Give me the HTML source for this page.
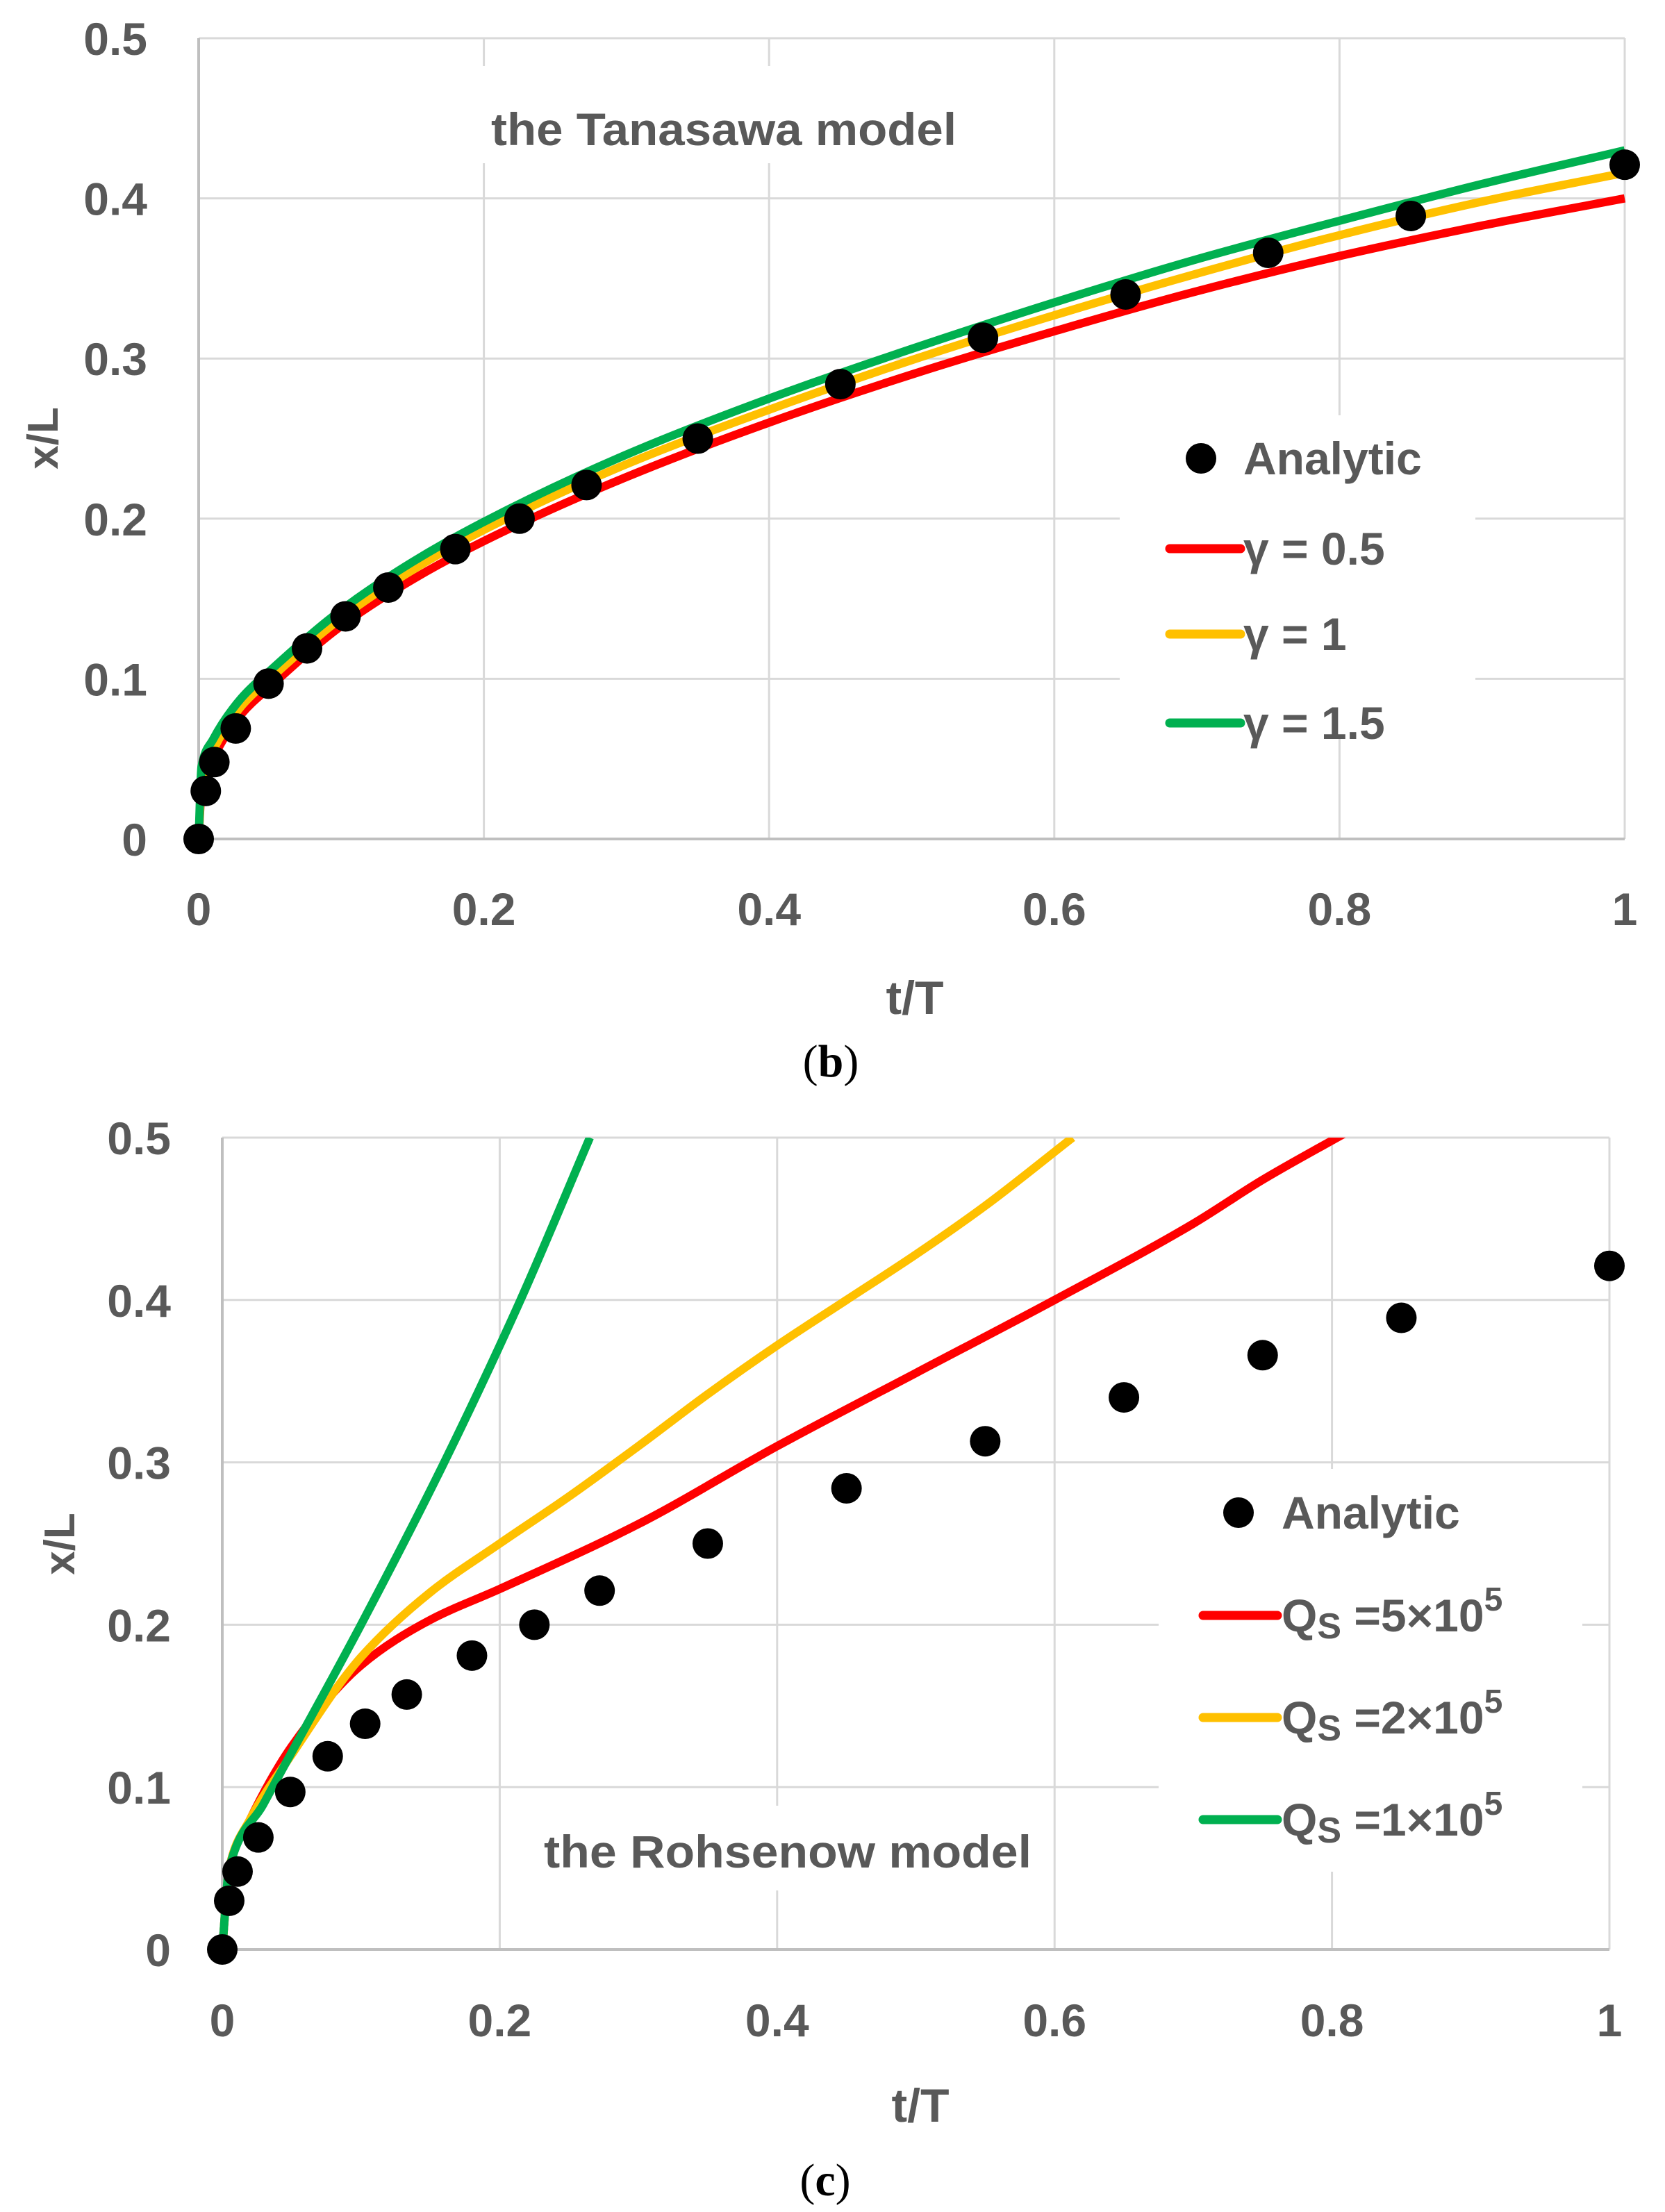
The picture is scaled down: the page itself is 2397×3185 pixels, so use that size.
<!DOCTYPE html>
<html><head><meta charset="utf-8">
<style>
html,body{margin:0;padding:0;background:#fff;}
svg{display:block;}
text{font-family:"Liberation Sans",sans-serif;font-weight:bold;fill:#595959;}
</style></head>
<body>
<svg id="fig" width="2397" height="3185" viewBox="0 0 2397 3185" xmlns="http://www.w3.org/2000/svg">
<rect width="2397" height="3185" fill="#fff"/>
</svg>
<script>
// ---- Chart (b) data ----
const xTicks = [0,0.2,0.4,0.6,0.8,1];
const xTickLabels = ["0","0.2","0.4","0.6","0.8","1"];
const yTicks = [0,0.1,0.2,0.3,0.4,0.5];
const yTickLabels = ["0","0.1","0.2","0.3","0.4","0.5"];
const analyticT = [0,0.005,0.011,0.026,0.049,0.076,0.103,0.133,0.18,0.225,0.272,0.35,0.45,0.55,0.65,0.75,0.85,1.0];
const analyticX = [0,0.030,0.048,0.069,0.097,0.119,0.139,0.157,0.181,0.200,0.221,0.250,0.284,0.313,0.340,0.366,0.389,0.421];
const bT = [0,0.002,0.01,0.03,0.05,0.1,0.15,0.2,0.3,0.4,0.5,0.6,0.7,0.8,0.9,1];
const bRed = [0,0.03,0.05,0.078,0.095,0.133,0.162,0.186,0.226,0.26,0.29,0.317,0.342,0.364,0.383,0.40];
const bYellow = [0,0.035,0.055,0.083,0.1,0.138,0.168,0.193,0.234,0.268,0.299,0.327,0.353,0.377,0.398,0.416];
const bGreen = [0,0.045,0.062,0.088,0.105,0.143,0.173,0.198,0.24,0.275,0.306,0.335,0.362,0.386,0.409,0.43];
// ---- Chart (c) data ----
const cRedT = [0,0.005,0.02,0.05,0.1,0.15,0.2,0.3,0.4,0.5,0.6,0.7,0.75,0.81];
const cRedX = [0,0.05,0.08,0.125,0.175,0.203,0.222,0.262,0.31,0.355,0.40,0.447,0.474,0.503];
const cYellowT = [0,0.005,0.02,0.05,0.1,0.15,0.2,0.25,0.3,0.35,0.4,0.45,0.5,0.55,0.613];
const cYellowX = [0,0.05,0.08,0.12,0.18,0.22,0.25,0.279,0.31,0.342,0.372,0.4,0.428,0.458,0.5];
const cGreenT = [0,0.005,0.03,0.1,0.16,0.215,0.265];
const cGreenX = [0,0.05,0.09,0.2,0.3,0.4,0.5];

const NS="http://www.w3.org/2000/svg";
const svg=document.getElementById('fig');
function mk(tag,attrs,parent){const e=document.createElementNS(NS,tag);for(const k in attrs)e.setAttribute(k,attrs[k]);(parent||svg).appendChild(e);return e;}
function smooth(pts){
  const n=pts.length;
  const dx=[],m=[],s=[];
  for(let i=0;i<n-1;i++){dx.push(pts[i+1][0]-pts[i][0]);s.push((pts[i+1][1]-pts[i][1])/dx[i]);}
  m[0]=s[0];m[n-1]=s[n-2];
  for(let i=1;i<n-1;i++){m[i]=(s[i-1]*s[i]<=0)?0:(dx[i-1]+dx[i])*3/((2*dx[i]+dx[i-1])/s[i-1]+(dx[i]+2*dx[i-1])/s[i]);}
  let d="M"+pts[0][0]+","+pts[0][1];
  for(let i=0;i<n-1;i++){
    const h=dx[i];
    d+=" C"+(pts[i][0]+h/3)+","+(pts[i][1]+m[i]*h/3)+" "+(pts[i+1][0]-h/3)+","+(pts[i+1][1]-m[i+1]*h/3)+" "+pts[i+1][0]+","+pts[i+1][1];
  }
  return d;
}

function chart(cfg){
  const g=mk('g',{});
  
  
  const X=v=>cfg.x0+v*(cfg.x1-cfg.x0);
  const Y=v=>cfg.y0-v*(cfg.y0-cfg.y1)/0.5;
  yTicks.forEach((v,i)=>{ if(v>0){const l=mk('line',{x1:cfg.x0,x2:cfg.x1,y1:Y(v),y2:Y(v),stroke:'#d9d9d9','stroke-width':3},g);
    }});
  xTicks.forEach((v,i)=>{ if(v>0){const l=mk('line',{x1:X(v),x2:X(v),y1:cfg.y1,y2:cfg.y0,stroke:'#d9d9d9','stroke-width':3},g);
    }});
  cfg.boxes.forEach(b=>{mk('rect',{x:b[0],y:b[1],width:b[2],height:b[3],fill:'#fff'},g);});
  const ya=mk('line',{x1:cfg.x0,x2:cfg.x0,y1:cfg.y1,y2:cfg.y0,stroke:'#bfbfbf','stroke-width':4},g);
  
  const xa=mk('line',{x1:cfg.x0,x2:cfg.x1,y1:cfg.y0,y2:cfg.y0,stroke:'#bfbfbf','stroke-width':4},g);
  
  yTicks.forEach((v,i)=>{const t=mk('text',{x:cfg.x0-74,y:Y(v)+24,'text-anchor':'end','font-size':66},g);t.textContent=yTickLabels[i];
    });
  xTicks.forEach((v,i)=>{const t=mk('text',{x:X(v),y:cfg.xTickY,'text-anchor':'middle','font-size':66},g);t.textContent=xTickLabels[i];
    });
  const cp=mk('clipPath',{id:cfg.name+'-clip'},g);
  mk('rect',{x:cfg.x0-20,y:cfg.y1,width:cfg.x1-cfg.x0+40,height:cfg.y0-cfg.y1+30},cp);
  cfg.series.forEach(s=>{
    const pts=s.t.map((t,i)=>[X(t),Y(s.v[i])]);
    const p=mk('path',{d:smooth(pts),fill:'none',stroke:s.color,'stroke-width':12,'stroke-linejoin':'round','clip-path':'url(#'+cfg.name+'-clip)'},g);
    
  });
  analyticT.forEach((t,i)=>{const c=mk('circle',{cx:X(t),cy:Y(analyticX[i]),r:22,fill:'#000'},g);
    });
  const tt=mk('text',{x:cfg.title[1],y:cfg.title[2],'text-anchor':'middle','font-size':66,textLength:cfg.title[3],lengthAdjust:'spacingAndGlyphs'},g);
  tt.textContent=cfg.title[0];
  const xt=mk('text',{x:cfg.xTitle[0],y:cfg.xTitle[1],'text-anchor':'middle','font-size':68},g);
  xt.textContent='t/T';
  const yt=mk('text',{x:0,y:0,'text-anchor':'middle','font-size':62,transform:'translate('+(cfg.yTitle[0]+22)+','+cfg.yTitle[1]+') rotate(-90)'},g);
  yt.textContent='x/L';
  const lg=mk('g',{},g);
  
  const L=cfg.legend;
  const m=mk('circle',{cx:L.mx,cy:L.my,r:22,fill:'#000'},lg);
  
  const at=mk('text',{x:L.tx,y:L.my+23,'font-size':66},lg);at.textContent='Analytic';
  
  L.lines.forEach((ln,i)=>{
    const sw=mk('line',{x1:L.lx0,x2:L.lx1,y1:ln.y,y2:ln.y,stroke:ln.color,'stroke-width':13,'stroke-linecap':'round'},lg);
    
    const t=mk('text',{x:L.tx,y:ln.y+23,'font-size':66},lg);
    t.innerHTML=ln.label;
    
  });
  const pl=mk('text',{x:cfg.panel[1],y:cfg.panel[2],'text-anchor':'middle','font-size':66,style:'font-family:"Liberation Serif",serif;font-weight:normal;fill:#000'},g);
  pl.innerHTML=cfg.panel[0];
}

chart({name:'chart-b',x0:286,x1:2339,y0:1208,y1:55,xTickY:1332,
  boxes:[[680,95,720,140],[1612,598,512,460]],
  series:[{name:'line-gamma-0.5',t:bT,v:bRed,color:'#ff0000'},{name:'line-gamma-1',t:bT,v:bYellow,color:'#ffc000'},{name:'line-gamma-1.5',t:bT,v:bGreen,color:'#00b050'}],
  title:['the Tanasawa model',1042,209,670],
  xTitle:[1317,1460],yTitle:[61,631],
  legend:{mx:1729,my:660,tx:1790,lx0:1684,lx1:1786,lines:[
    {y:790,color:'#ff0000',label:'γ = 0.5'},{y:913,color:'#ffc000',label:'γ = 1'},{y:1041,color:'#00b050',label:'γ = 1.5'}]},
  panel:['(<tspan font-weight="bold">b</tspan>)',1196,1550]
});
chart({name:'chart-c',x0:320,x1:2317,y0:2807,y1:1638,xTickY:2932,
  boxes:[[760,2600,750,122],[1668,2115,610,580]],
  series:[{name:'line-qs-5e5',t:cRedT,v:cRedX,color:'#ff0000'},{name:'line-qs-2e5',t:cYellowT,v:cYellowX,color:'#ffc000'},{name:'line-qs-1e5',t:cGreenT,v:cGreenX,color:'#00b050'}],
  title:['the Rohsenow model',1134,2689,702],
  xTitle:[1325,3055],yTitle:[85,2223],
  legend:{mx:1783,my:2178,tx:1845,lx0:1732,lx1:1839,lines:[
    {y:2326,color:'#ff0000',label:'Q<tspan font-size="52" dy="10">S</tspan><tspan dy="-10"> =5×10</tspan><tspan font-size="48" dy="-30">5</tspan>'},
    {y:2473,color:'#ffc000',label:'Q<tspan font-size="52" dy="10">S</tspan><tspan dy="-10"> =2×10</tspan><tspan font-size="48" dy="-30">5</tspan>'},
    {y:2620,color:'#00b050',label:'Q<tspan font-size="52" dy="10">S</tspan><tspan dy="-10"> =1×10</tspan><tspan font-size="48" dy="-30">5</tspan>'}]},
  panel:['(<tspan font-weight="bold">c</tspan>)',1188,3161]
});
</script>
</body></html>
